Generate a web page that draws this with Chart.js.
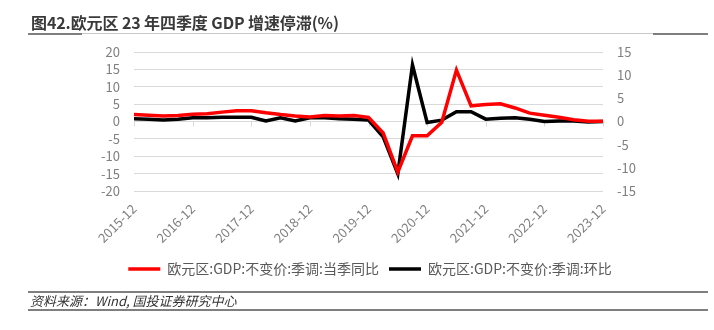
<!DOCTYPE html>
<html>
<head>
<meta charset="utf-8">
<script src="https://cdn.jsdelivr.net/npm/chart.js@4/dist/chart.umd.min.js"></script>
<style>
  html, body { margin: 0; padding: 0; background: #fff; }
  #wrap { position: relative; width: 714px; height: 330px; overflow: hidden; font-family: "Noto Sans CJK SC", "Noto Sans", sans-serif; }
  #chart { position: absolute; left: 0; top: 0; }
  .title { position: absolute; left: 31px; top: 10px; font-size: 16px; font-weight: 700; color: #3a3a3a; white-space: nowrap; letter-spacing: -0.1px; }
  .rule { position: absolute; height: 1px; background: #c8c8c8; }
  .rule.dark { height: 2px; background: #7f7f7f; }
  .source { position: absolute; left: 30px; top: 291px; font-size: 13px; font-style: italic; color: #333; white-space: nowrap; }
</style>
</head>
<body>
<div id="wrap">
  <canvas id="chart" width="714" height="330"></canvas>
  <div class="title">图42.欧元区 23 年四季度 GDP 增速停滞(%)</div>
  <div class="rule" style="left:28px; top:33px; width:680px;"></div>
  <div class="rule dark" style="left:28px; top:33px; width:54px;"></div>
  <div class="rule dark" style="left:653px; top:33px; width:55px;"></div>
  <div class="rule dark" style="left:28px; top:291px; width:680px;"></div>
  <div class="source">资料来源：Wind, 国投证券研究中心</div>
  <div class="rule dark" style="left:28px; top:309px; width:680px;"></div>
</div>
<script>
// 季度
const quarters = [
  "2015-12", "2016-03", "2016-06", "2016-09", "2016-12",
  "2017-03", "2017-06", "2017-09", "2017-12",
  "2018-03", "2018-06", "2018-09", "2018-12",
  "2019-03", "2019-06", "2019-09", "2019-12",
  "2020-03", "2020-06", "2020-09", "2020-12",
  "2021-03", "2021-06", "2021-09", "2021-12",
  "2022-03", "2022-06", "2022-09", "2022-12",
  "2023-03", "2023-06", "2023-09", "2023-12"
];

// 当季同比 (左轴)
const yoy = [
  2.0, 1.8, 1.6, 1.7, 2.1, 2.2, 2.7, 3.1, 3.1,
  2.5, 2.0, 1.6, 1.3, 1.7, 1.6, 1.7, 1.2,
  -3.3, -14.6, -4.1, -4.1, -0.2, 14.8, 4.5, 4.9,
  5.1, 3.9, 2.4, 1.8, 1.2, 0.5, 0.1, 0.1
];

// 环比 (右轴)
const qoq = [
  0.6, 0.5, 0.3, 0.5, 0.8, 0.8, 0.9, 0.9, 0.9,
  0.1, 0.8, 0.1, 0.8, 0.8, 0.6, 0.5, 0.3,
  -3.3, -11.3, 12.2, -0.2, 0.3, 2.1, 2.1, 0.5,
  0.7, 0.8, 0.5, 0.0, 0.1, 0.1, -0.1, 0.0
];

const leftTicks = { min: -20, max: 20, step: 5 };
const rightTicks = { min: -15, max: 15, step: 5 };

const axisGrey = "#7f7f7f";
const gridGrey = "#d9d9d9";

// small marks on the zero line under each year label
const zeroMarks = {
  id: "zeroMarks",
  beforeDatasetsDraw(chart) {
    const { ctx, scales } = chart;
    const y0 = scales.y.getPixelForValue(0);
    ctx.save();
    ctx.strokeStyle = gridGrey;
    ctx.lineWidth = 1;
    quarters.forEach((q, i) => {
      if (i % 4 !== 0) return;
      const x = Math.round(scales.x.getPixelForValue(i)) + 0.5;
      ctx.beginPath();
      ctx.moveTo(x, y0);
      ctx.lineTo(x, y0 + 5);
      ctx.stroke();
    });
    ctx.restore();
  }
};

Chart.defaults.font.family = '"Noto Sans CJK SC", "Noto Sans", sans-serif';

new Chart(document.getElementById("chart").getContext("2d"), {
  type: "line",
  data: {
    labels: quarters,
    datasets: [
      {
        label: "欧元区:GDP:不变价:季调:当季同比",
        data: yoy,
        yAxisID: "y",
        borderColor: "#ff0000",
        backgroundColor: "#ff0000",
        borderWidth: 3.5,
        pointRadius: 0,
        tension: 0,
      },
      {
        label: "欧元区:GDP:不变价:季调:环比",
        data: qoq,
        yAxisID: "y1",
        borderColor: "#000000",
        backgroundColor: "#000000",
        borderWidth: 3.5,
        pointRadius: 0,
        tension: 0,
      },
    ],
  },
  options: {
    responsive: false,
    animation: false,
    layout: { padding: { left: 26, top: 52, right: 0, bottom: 44 } },
    plugins: {
      tooltip: { enabled: false },
      legend: {
        position: "bottom",
        labels: {
          usePointStyle: true,
          pointStyle: "line",
          pointStyleWidth: 32,
          color: "#595959",
          font: { size: 14 },
          padding: 10,
        },
      },
    },
    scales: {
      x: {
        grid: { display: false },
        border: { display: false },
        ticks: {
          autoSkip: false,
          maxRotation: 45,
          minRotation: 45,
          padding: 2,
          color: axisGrey,
          font: { size: 13 },
          callback: (v, i) => (i % 4 === 0 ? quarters[i] : ""),
        },
        afterFit: (s) => { s.height = 61; },
      },
      y: {
        position: "left",
        min: leftTicks.min,
        max: leftTicks.max,
        grid: { color: gridGrey, lineWidth: 1, drawTicks: false },
        border: { display: false },
        ticks: { stepSize: leftTicks.step, autoSkip: false, color: axisGrey, font: { size: 13 }, padding: 14 },
        afterFit: (s) => { s.width = 108; },
      },
      y1: {
        position: "right",
        min: rightTicks.min,
        max: rightTicks.max,
        grid: { display: false, drawTicks: false },
        border: { display: false },
        ticks: { stepSize: rightTicks.step, autoSkip: false, color: axisGrey, font: { size: 13 }, padding: 14 },
        afterFit: (s) => { s.width = 111; },
      },
    },
  },
  plugins: [zeroMarks],
});
</script>
</body>
</html>
